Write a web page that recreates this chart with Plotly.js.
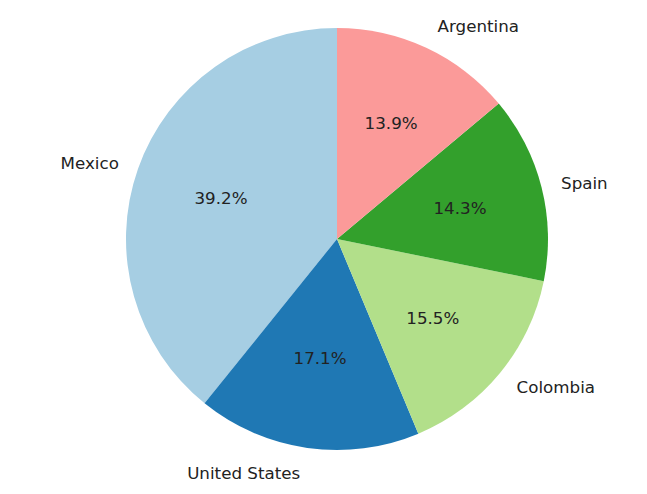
<!DOCTYPE html>
<html>
<head>
<meta charset="utf-8">
<script src="https://cdn.plot.ly/plotly-3.0.1.min.js"></script>
<style>html,body{margin:0;padding:0;background:#fff;}#chart{width:647px;height:494px;}</style>
</head>
<body>
<div id="chart"></div>
<script>
const countries = ["Mexico", "United States", "Colombia", "Spain", "Argentina"];
const shares = [39.2, 17.1, 15.5, 14.3, 13.9];
const colors = ["#a6cee3", "#1f78b4", "#b2df8a", "#33a02c", "#fb9a99"];

// matplotlib-style: first wedge starts at 12 o'clock and runs counterclockwise
const total = shares.reduce((a, b) => a + b, 0);
const startRot = -shares[0] / total * 360;
const pct = shares.map(v => (v / total * 100).toFixed(1) + "%");
const clear = countries.map(() => "rgba(0,0,0,0)");

const font = {family: "DejaVu Sans", size: 16.7, color: "#222"};
const common = {
  type: "pie",
  labels: countries,
  values: shares,
  sort: false,
  direction: "counterclockwise",
  rotation: startRot,
  hoverinfo: "skip",
  showlegend: false
};
const H = 478;
const dom = r => ({x: [0, 1], y: [(239 - r) / H, (239 + r) / H]});

const wedges = Object.assign({}, common, {
  domain: dom(211),
  marker: {colors: colors, line: {width: 0}},
  textinfo: "none"
});
const smallPct = Object.assign({}, common, {
  domain: dom(182),
  marker: {colors: clear, line: {width: 0}},
  text: pct.map((t, i) => shares[i] / total < 0.3 ? t : ""),
  textinfo: "text",
  textposition: "inside",
  insidetextorientation: "horizontal",
  insidetextfont: font
});
const bigPct = Object.assign({}, common, {
  domain: dom(239),
  marker: {colors: clear, line: {width: 0}},
  text: pct.map((t, i) => shares[i] / total >= 0.3 ? t : ""),
  textinfo: "text",
  textposition: "inside",
  insidetextorientation: "horizontal",
  insidetextfont: font
});
const labelsTr = Object.assign({}, common, {
  domain: dom(226),
  marker: {colors: clear, line: {width: 0}},
  textinfo: "label",
  textposition: "outside",
  outsidetextfont: font,
  automargin: false
});
Plotly.newPlot("chart", [wedges, labelsTr, smallPct, bigPct], {
  width: 647, height: 494,
  margin: {l: 27, r: 0, t: 0, b: 16},
  paper_bgcolor: "#fff",
  font: font
}, {staticPlot: true});
</script>
</body>
</html>
